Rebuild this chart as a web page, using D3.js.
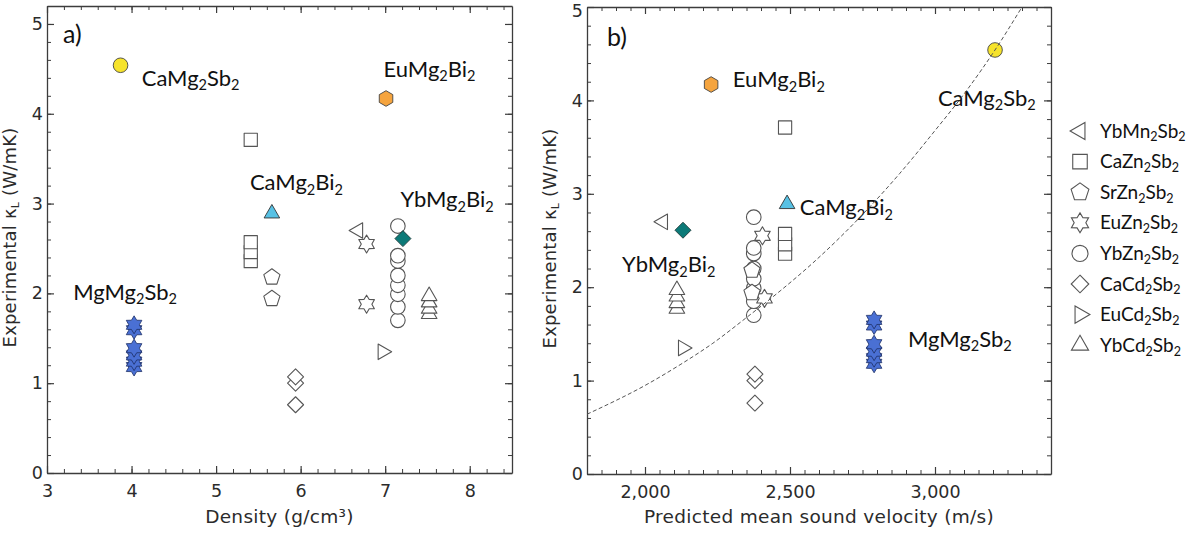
<!DOCTYPE html>
<html>
<head>
<meta charset="utf-8">
<script src="https://cdn.jsdelivr.net/npm/d3@7"></script>
<style>
  body { margin: 0; background: #fff; }
  svg { display: block; }
</style>
</head>
<body>
<svg id="chart"></svg>
<script>
// rho = density (g/cm3), v = predicted mean sound velocity (m/s), k = experimental kappa_L (W/mK)
const YbMn2Sb2 = { rho: [6.68], v: [2062], k: [2.70] }
const CaZn2Sb2 = { rho: [5.41, 5.41, 5.41, 5.41], v: [2483, 2483, 2483, 2483], k: [3.71, 2.57, 2.46, 2.36] }
const SrZn2Sb2 = { rho: [5.66, 5.66], v: [2369, 2369], k: [2.18, 1.94] }
const EuZn2Sb2 = { rho: [6.78, 6.78], v: [2405, 2412], k: [2.55, 1.88] }
const YbZn2Sb2 = { rho: [7.15, 7.15, 7.15, 7.15, 7.15, 7.15, 7.15, 7.15],
                   v: [2375, 2375, 2375, 2375, 2375, 2375, 2375, 2375],
                   k: [2.75, 2.42, 2.36, 2.20, 2.09, 1.99, 1.85, 1.70] }
const CaCd2Sb2 = { rho: [5.94, 5.94, 5.94], v: [2379, 2379, 2379], k: [1.07, 1.00, 0.76] }
const EuCd2Sb2 = { rho: [6.97], v: [2131], k: [1.35] }
const YbCd2Sb2 = { rho: [7.52, 7.52, 7.52, 7.52], v: [2110, 2110, 2110, 2110], k: [1.97, 1.90, 1.83, 1.77] }

const MgMg2Sb2 = { rho: [4.03, 4.03, 4.03, 4.03, 4.03, 4.03],
                   v: [2790, 2790, 2790, 2790, 2790, 2790],
                   k: [1.65, 1.59, 1.39, 1.31, 1.24, 1.18] }
const CaMg2Sb2 = { rho: [3.87], v: [3207], k: [4.54] }
const EuMg2Bi2 = { rho: [7.01], v: [2228], k: [4.17] }
const CaMg2Bi2 = { rho: [5.66], v: [2490], k: [2.89] }
const YbMg2Bi2 = { rho: [7.21], v: [2131], k: [2.61] }

// dashed guide curve in panel b
const fitV = [1800, 2007, 2121, 2234, 2352, 2466, 2579, 2766, 2879, 2993, 3110, 3207, 3300]
const fitK = [0.64, 0.96, 1.17, 1.40, 1.68, 1.96, 2.26, 2.83, 3.22, 3.65, 4.11, 4.54, 5.00]

const densityTicks = [3, 4, 5, 6, 7, 8]
const velocityTicks = [2000, 2500, 3000]
const kappaTicks = [0, 1, 2, 3, 4, 5]

const legendNames = ['YbMn2Sb2', 'CaZn2Sb2', 'SrZn2Sb2', 'EuZn2Sb2', 'YbZn2Sb2', 'CaCd2Sb2', 'EuCd2Sb2', 'YbCd2Sb2']

// label anchors (text start, baseline) in data units
const labelsA = [
  { name: 'CaMg2Sb2', x: 4.12, y: 4.31 },
  { name: 'EuMg2Bi2', x: 6.98, y: 4.41 },
  { name: 'CaMg2Bi2', x: 5.40, y: 3.15 },
  { name: 'YbMg2Bi2', x: 7.18, y: 2.96 },
  { name: 'MgMg2Sb2', x: 3.31, y: 1.93 },
]
const labelsB = [
  { name: 'EuMg2Bi2', x: 2303, y: 4.14 },
  { name: 'CaMg2Sb2', x: 3010, y: 3.94 },
  { name: 'CaMg2Bi2', x: 2534, y: 2.77 },
  { name: 'YbMg2Bi2', x: 1921, y: 2.16 },
  { name: 'MgMg2Sb2', x: 2907, y: 1.36 },
]

const W = 1198, H = 533
const svg = d3.select('#chart').attr('width', W).attr('height', H)

// ---- marker shapes
function poly(n, r, rot) {
  const p = d3.path()
  for (let i = 0; i < n; i++) {
    const a = rot + i * 2 * Math.PI / n
    const px = r * Math.sin(a), py = -r * Math.cos(a)
    i ? p.lineTo(px, py) : p.moveTo(px, py)
  }
  p.closePath()
  return p.toString()
}
function star(n, r, ri) {
  const p = d3.path()
  for (let i = 0; i < 2 * n; i++) {
    const a = i * Math.PI / n, rr = i % 2 ? ri : r
    const px = rr * Math.sin(a), py = -rr * Math.cos(a)
    i ? p.lineTo(px, py) : p.moveTo(px, py)
  }
  p.closePath()
  return p.toString()
}
const shapes = {
  circle: s => { const p = d3.path(); p.moveTo(7.3 * s, 0); p.arc(0, 0, 7.3 * s, 0, 2 * Math.PI); return p.toString() },
  square: s => { const h = 6.6 * s; return `M${-h},${-h}H${h}V${h}H${-h}Z` },
  diamond: s => poly(4, 8 * s, 0),
  triUp: s => poly(3, 9 * s, 0),
  triLeft: s => poly(3, 9 * s, -Math.PI / 2),
  triRight: s => poly(3, 9 * s, Math.PI / 2),
  pentagon: s => poly(5, 8.5 * s, 0),
  hexagon: s => poly(6, 7.8 * s, 0),
  star6: s => star(6, 9 * s, 5.3 * s),
}

const OPEN = { fill: '#fff', stroke: '#555', sw: 1.1 }
const series = [
  { name: 'YbMn2Sb2', d: YbMn2Sb2, shape: 'triLeft', ...OPEN },
  { name: 'CaZn2Sb2', d: CaZn2Sb2, shape: 'square', ...OPEN },
  { name: 'YbZn2Sb2', d: YbZn2Sb2, shape: 'circle', ...OPEN },
  { name: 'EuZn2Sb2', d: EuZn2Sb2, shape: 'star6', ...OPEN },
  { name: 'SrZn2Sb2', d: SrZn2Sb2, shape: 'pentagon', ...OPEN },
  { name: 'CaCd2Sb2', d: CaCd2Sb2, shape: 'diamond', ...OPEN },
  { name: 'EuCd2Sb2', d: EuCd2Sb2, shape: 'triRight', ...OPEN },
  { name: 'YbCd2Sb2', d: YbCd2Sb2, shape: 'triUp', ...OPEN },
  { name: 'MgMg2Sb2', d: MgMg2Sb2, shape: 'star6', fill: '#4a70d4', stroke: '#1d2f66', sw: 0.8 },
  { name: 'CaMg2Sb2', d: CaMg2Sb2, shape: 'circle', fill: '#f6e32b', stroke: '#444', sw: 0.9 },
  { name: 'EuMg2Bi2', d: EuMg2Bi2, shape: 'hexagon', fill: '#f5a43e', stroke: '#444', sw: 0.9 },
  { name: 'CaMg2Bi2', d: CaMg2Bi2, shape: 'triUp', fill: '#57c1e4', stroke: '#333', sw: 0.9 },
  { name: 'YbMg2Bi2', d: YbMg2Bi2, shape: 'diamond', fill: '#0c7a78', stroke: '#1e3b3a', sw: 0.9 },
]

// chemical formula with subscript digits
function chem(text, str, fs) {
  const sh = fs * 0.2
  let wasSub = false
  str.split(/(\d+)/).filter(Boolean).forEach(part => {
    const isSub = /^\d+$/.test(part)
    const t = text.append('tspan').text(part)
    if (isSub) t.attr('font-size', fs * 0.66).attr('dy', sh)
    else if (wasSub) t.attr('dy', -sh)
    wasSub = isSub
  })
}

const panels = [
  {
    key: 'rho', tag: 'a)', labels: labelsA,
    x: d3.scaleLinear().domain([3, 8.5]).range([47, 512]),
    y: d3.scaleLinear().domain([0, 5.2]).range([473, 6]),
    xMajor: densityTicks, xMinor: d3.range(3, 8.5, 0.2), xFmt: d3.format('d'),
    title: 'Density (g/cm³)',
  },
  {
    key: 'v', tag: 'b)', labels: labelsB,
    x: d3.scaleLinear().domain([1800, 3400]).range([587, 1051]),
    y: d3.scaleLinear().domain([0, 5]).range([474, 7]),
    xMajor: velocityTicks, xMinor: d3.range(1800, 3401, 50), xFmt: d3.format(','),
    title: 'Predicted mean sound velocity (m/s)',
  },
]

const AX = '#3c3c3c'
const AXFONT = 'DejaVu Sans, sans-serif'

panels.forEach((p, pi) => {
  const g = svg.append('g')
  const [x0, x1] = p.x.range(), [y0, y1] = p.y.range()
  const yMinor = d3.range(0, p.y.domain()[1] + 1e-6, 0.2)
  const yMajor = kappaTicks.filter(t => t <= p.y.domain()[1])

  const axes = [
    [d3.axisBottom(p.x).tickValues(p.xMajor).tickFormat(p.xFmt).tickPadding(12), y0, 'x'],
    [d3.axisTop(p.x).tickValues(p.xMajor).tickFormat(''), y1, 'x'],
    [d3.axisLeft(p.y).tickValues(yMajor).tickFormat(d3.format('d')).tickPadding(4), x0, 'y'],
    [d3.axisRight(p.y).tickValues(yMajor).tickFormat(''), x1, 'y'],
  ]
  axes.forEach(([ax, pos, dim]) => {
    const t = dim === 'x' ? `translate(0,${pos})` : `translate(${pos},0)`
    g.append('g').attr('transform', t)
      .call(ax.tickSizeInner(-7).tickSizeOuter(0))
      .call(s => s.select('.domain').attr('stroke', AX).attr('stroke-width', 1.3))
      .call(s => s.selectAll('.tick line').attr('stroke', AX).attr('stroke-width', 1.2))
      .call(s => s.selectAll('.tick text').attr('fill', '#2b2b2b')
        .attr('font-family', AXFONT).attr('font-size', 17.5))
  })
  // keep the top "5" label of panel b inside the picture
  g.selectAll('.tick text').filter(d => d === 5 && y1 + 0 < 10 && pi === 1).attr('dy', '0.55em')

  // minor ticks
  const minor = [
    [d3.axisBottom(p.x).tickValues(p.xMinor), `translate(0,${y0})`],
    [d3.axisTop(p.x).tickValues(p.xMinor), `translate(0,${y1})`],
    [d3.axisLeft(p.y).tickValues(yMinor), `translate(${x0},0)`],
    [d3.axisRight(p.y).tickValues(yMinor), `translate(${x1},0)`],
  ]
  minor.forEach(([ax, t]) => {
    g.append('g').attr('transform', t)
      .call(ax.tickFormat('').tickSizeInner(-4).tickSizeOuter(0))
      .call(s => s.select('.domain').remove())
      .call(s => s.selectAll('.tick line').attr('stroke', AX).attr('stroke-width', 1))
  })

  // axis titles
  g.append('text')
    .attr('x', (x0 + x1) / 2).attr('y', 523)
    .attr('text-anchor', 'middle')
    .attr('font-family', AXFONT).attr('font-size', 18.5).attr('letter-spacing', 0.3).attr('fill', '#2b2b2b')
    .text(p.title)

  const yt = g.append('text')
    .attr('transform', `translate(${x0 - 31},${(y0 + y1) / 2 - 2}) rotate(-90)`)
    .attr('text-anchor', 'middle')
    .attr('font-family', AXFONT).attr('font-size', 18).attr('letter-spacing', 0.2).attr('fill', '#2b2b2b')
  yt.append('tspan').text('Experimental κ')
  yt.append('tspan').text('L').attr('font-size', 11).attr('dy', 3)
  yt.append('tspan').text(' (W/mK)').attr('dy', -3)

  // panel tag
  g.append('text')
    .attr('x', x0 + (pi ? 20 : 16)).attr('y', y1 + (pi ? 39 : 37))
    .attr('font-family', 'Lato, sans-serif').attr('font-size', 25).attr('fill', '#111')
    .text(p.tag)

  // markers
  const clipId = 'clip' + pi
  g.append('clipPath').attr('id', clipId)
    .append('rect').attr('x', x0).attr('y', y1).attr('width', x1 - x0).attr('height', y0 - y1)

  const marks = g.append('g')
  series.forEach(s => {
    const pts = s.d.k.map((k, i) => ({ xv: s.d[p.key][i], k })).sort((a, b) => a.k - b.k)
    marks.append('g').selectAll('path')
      .data(pts)
      .join('path')
      .attr('d', shapes[s.shape](1))
      .attr('transform', d => `translate(${p.x(d.xv)},${p.y(d.k)})`)
      .attr('fill', s.fill).attr('stroke', s.stroke).attr('stroke-width', s.sw)
      .attr('stroke-linejoin', 'round')
  })

  // compound labels
  p.labels.forEach(l => {
    const t = g.append('text')
      .attr('x', p.x(l.x)).attr('y', p.y(l.y))
      .attr('font-family', 'Lato, sans-serif').attr('font-size', 22).attr('fill', '#111')
    chem(t, l.name, 22)
  })

  // guide curve
  if (p.key === 'v') {
    const line = d3.line().x(d => p.x(d[0])).y(d => p.y(d[1])).curve(d3.curveMonotoneX)
    g.append('path')
      .datum(fitV.map((v, i) => [v, fitK[i]]))
      .attr('clip-path', `url(#${clipId})`)
      .attr('d', line)
      .attr('fill', 'none').attr('stroke', '#555').attr('stroke-width', 1)
      .attr('stroke-dasharray', '4,2.5')
  }
})

// legend
const leg = svg.append('g')
legendNames.forEach((name, i) => {
  const s = series.find(d => d.name === name)
  const cy = 131 + i * 30.6
  leg.append('path')
    .attr('d', shapes[s.shape](1.1))
    .attr('transform', `translate(1080,${cy})`)
    .attr('fill', s.fill).attr('stroke', s.stroke).attr('stroke-width', s.sw)
  const t = leg.append('text')
    .attr('x', 1100).attr('y', cy + 6.5)
    .attr('font-family', 'Lato, sans-serif').attr('font-size', 19).attr('fill', '#111')
  chem(t, name, 19)
})
</script>
</body>
</html>
